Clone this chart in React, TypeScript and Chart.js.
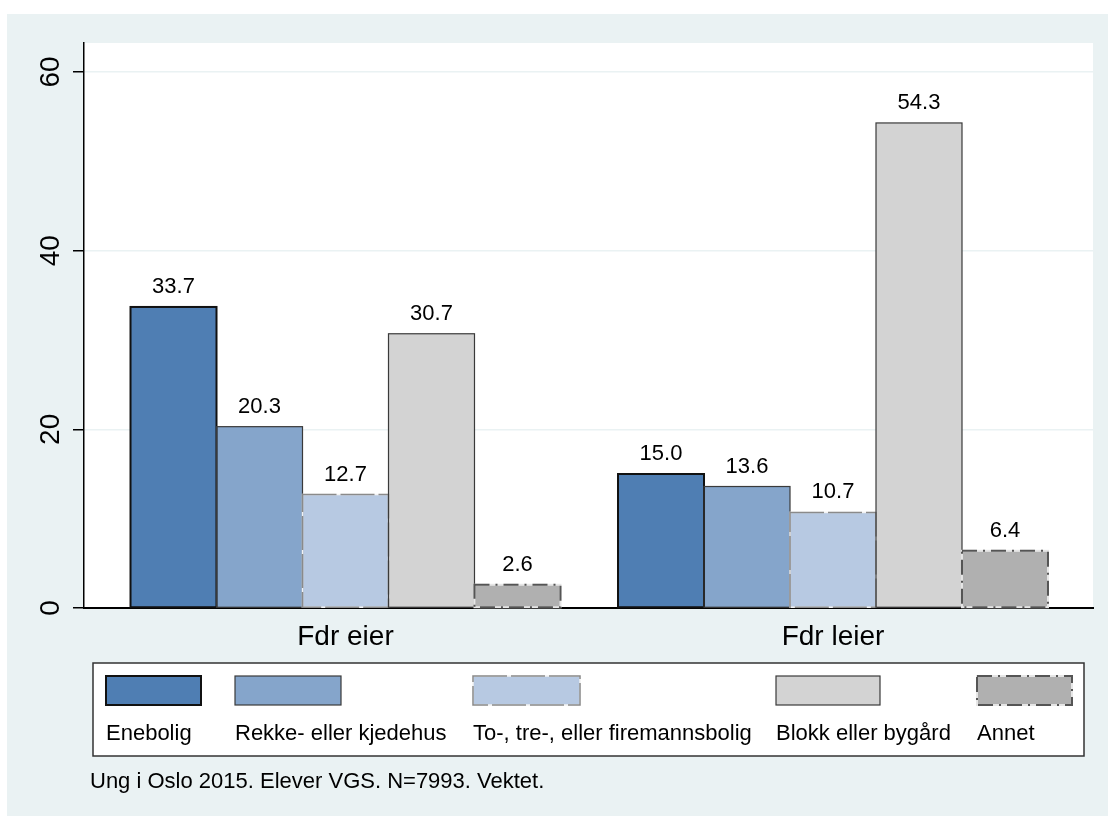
import React, { useEffect, useRef } from 'react';
import { Chart, registerables } from 'chart.js';

Chart.register(...registerables);

// ---------- data ----------
const categories = ['Fdr eier', 'Fdr leier'];
const seriesNames = [
  'Enebolig',
  'Rekke- eller kjedehus',
  'To-, tre-, eller firemannsbolig',
  'Blokk eller bygård',
  'Annet',
];
const eneboligValues = [33.7, 15.0];
const rekkeValues = [20.3, 13.6];
const toTreValues = [12.7, 10.7];
const blokkValues = [30.7, 54.3];
const annetValues = [2.6, 6.4];
const yTicks = [0, 20, 40, 60];
const caption = 'Ung i Oslo 2015. Elever VGS. N=7993. Vektet.';

const seriesValues = [eneboligValues, rekkeValues, toTreValues, blokkValues, annetValues];

// ---------- styles / layout ----------
const FONT = '"Liberation Sans", Arial, Helvetica, sans-serif';
const BG = '#EAF2F3';

type OutlineStyle = { fill: string; stroke: string; width: number; dash: number[] | null; gap?: string };
const seriesStyles: OutlineStyle[] = [
  { fill: '#4F7EB3', stroke: '#111111', width: 2, dash: null },
  { fill: '#85A5CB', stroke: '#3A3A3A', width: 1.2, dash: null },
  { fill: '#B7C9E2', stroke: '#8A8A8A', width: 1.5, dash: [34, 4], gap: '#F2F2F2' },
  { fill: '#D3D3D3', stroke: '#3A3A3A', width: 1.2, dash: null },
  { fill: '#B0B0B0', stroke: '#555555', width: 2, dash: [15, 6, 2, 6], gap: '#E6E6E6' },
];

const LEGEND_BOX = { x: 93, y: 663, w: 991, h: 93 };
const LEGEND_COL_X = [106, 235, 473, 776, 977];
const LEGEND_SYM_W = [95, 106, 107, 104, 95];
const LEGEND_SYM_Y = 676;
const LEGEND_SYM_H = 29;
const LEGEND_LABEL_BASE = 740;
const CAPTION_X = 90;
const CAPTION_BASE = 788;

function strokeOutline(ctx: CanvasRenderingContext2D, x: number, y: number, w: number, h: number, s: OutlineStyle) {
  ctx.save();
  ctx.lineWidth = s.width;
  if (s.dash) {
    ctx.setLineDash([]);
    ctx.strokeStyle = s.gap || '#fff';
    ctx.strokeRect(x, y, w, h);
    ctx.setLineDash(s.dash);
  }
  ctx.strokeStyle = s.stroke;
  ctx.strokeRect(x, y, w, h);
  ctx.restore();
}

const backgroundPlugin = {
  id: 'stataBackground',
  beforeDraw(chart: any) {
    const { ctx, chartArea } = chart;
    ctx.save();
    ctx.fillStyle = '#ffffff';
    ctx.fillRect(0, 0, chart.width, chart.height);
    ctx.fillStyle = BG;
    ctx.fillRect(7, 14, chart.width - 7, chart.height - 14);
    ctx.fillStyle = '#ffffff';
    ctx.fillRect(chartArea.left, chartArea.top, chartArea.right - chartArea.left, chartArea.bottom - chartArea.top);
    ctx.restore();
  },
};

const barDecorPlugin = {
  id: 'barDecor',
  afterDatasetsDraw(chart: any) {
    const { ctx } = chart;
    chart.data.datasets.forEach((ds: any, i: number) => {
      const meta = chart.getDatasetMeta(i);
      meta.data.forEach((el: any) => {
        const { x, y, base, width } = el.getProps(['x', 'y', 'base', 'width'], true);
        strokeOutline(ctx, x - width / 2, y, width, base - y, seriesStyles[i]);
      });
    });
    ctx.save();
    ctx.fillStyle = '#000';
    ctx.font = `22px ${FONT}`;
    ctx.textAlign = 'center';
    ctx.textBaseline = 'alphabetic';
    chart.data.datasets.forEach((ds: any, i: number) => {
      const meta = chart.getDatasetMeta(i);
      meta.data.forEach((el: any, j: number) => {
        const { x, y } = el.getProps(['x', 'y'], true);
        ctx.fillText(Number(ds.data[j].y).toFixed(1), x, y - 14);
      });
    });
    ctx.restore();
  },
};

const legendPlugin = {
  id: 'stataLegend',
  afterDraw(chart: any) {
    const { ctx } = chart;
    ctx.save();
    ctx.fillStyle = '#ffffff';
    ctx.fillRect(LEGEND_BOX.x, LEGEND_BOX.y, LEGEND_BOX.w, LEGEND_BOX.h);
    ctx.strokeStyle = '#333333';
    ctx.lineWidth = 1.5;
    ctx.strokeRect(LEGEND_BOX.x, LEGEND_BOX.y, LEGEND_BOX.w, LEGEND_BOX.h);
    chart.data.datasets.forEach((ds: any, i: number) => {
      const s = seriesStyles[i];
      const x = LEGEND_COL_X[i];
      const w = LEGEND_SYM_W[i];
      ctx.fillStyle = s.fill;
      ctx.fillRect(x, LEGEND_SYM_Y, w, LEGEND_SYM_H);
      strokeOutline(ctx, x, LEGEND_SYM_Y, w, LEGEND_SYM_H, s);
      ctx.fillStyle = '#000';
      ctx.font = `22px ${FONT}`;
      ctx.textAlign = 'left';
      ctx.textBaseline = 'alphabetic';
      ctx.fillText(ds.label, x, LEGEND_LABEL_BASE);
    });
    ctx.fillStyle = '#000';
    ctx.font = `22px ${FONT}`;
    ctx.textAlign = 'left';
    ctx.fillText(caption, CAPTION_X, CAPTION_BASE);
    ctx.restore();
  },
};

export default function App() {
  const canvasRef = useRef<HTMLCanvasElement | null>(null);

  useEffect(() => {
    if (!canvasRef.current) return;
    const datasets = seriesNames.map((name, i) => ({
      label: name,
      data: seriesValues[i].map((v, j) => ({ x: j + 1, y: v })),
      backgroundColor: seriesStyles[i].fill,
      borderWidth: 0,
      categoryPercentage: 0.882,
      barPercentage: 1,
    }));

    const chart = new Chart(canvasRef.current, {
      type: 'bar',
      data: { datasets },
      options: {
        responsive: false,
        animation: false,
        devicePixelRatio: 1,
        layout: { padding: { left: 0, right: 15, top: 43, bottom: 0 } },
        plugins: { legend: { display: false }, tooltip: { enabled: false } },
        scales: {
          x: {
            type: 'linear',
            offset: false,
            min: 0.46359,
            max: 2.53333,
            grid: { display: false, drawTicks: false, offset: false },
            border: { display: true, color: '#000', width: 2 },
            afterBuildTicks: (s: any) => {
              s.ticks = categories.map((_, i) => ({ value: i + 1 }));
            },
            afterFit: (s: any) => {
              s.height = 208;
            },
            ticks: {
              callback: (v: any) => categories[Number(v) - 1] ?? '',
              font: { family: FONT, size: 28 },
              color: '#000',
              padding: 12,
              autoSkip: false,
              maxRotation: 0,
              minRotation: 0,
            },
          },
          y: {
            type: 'linear',
            min: 0,
            max: 63.25,
            afterBuildTicks: (s: any) => {
              s.ticks = yTicks.map((v) => ({ value: v }));
            },
            afterFit: (s: any) => {
              s.width = 84;
            },
            grid: {
              color: (c: any) => (c.tick && c.tick.value === 0 ? 'rgba(0,0,0,0)' : BG),
              lineWidth: 1.5,
              drawTicks: true,
              tickLength: 11,
              tickColor: '#000',
              tickWidth: 1.5,
            },
            border: { display: true, color: '#000', width: 1.5 },
            ticks: {
              font: { family: FONT, size: 28 },
              color: '#000',
              padding: 6,
              minRotation: 90,
              maxRotation: 90,
              crossAlign: 'center',
              callback: (v: any) => String(v),
            },
          },
        },
      } as any,
      plugins: [backgroundPlugin, barDecorPlugin, legendPlugin],
    });
    return () => chart.destroy();
  }, []);

  return (
    <div style={{ position: 'absolute', left: 0, top: 0, width: 1108, height: 816 }}>
      <canvas ref={canvasRef} width={1108} height={816} style={{ display: 'block' }} />
    </div>
  );
}
